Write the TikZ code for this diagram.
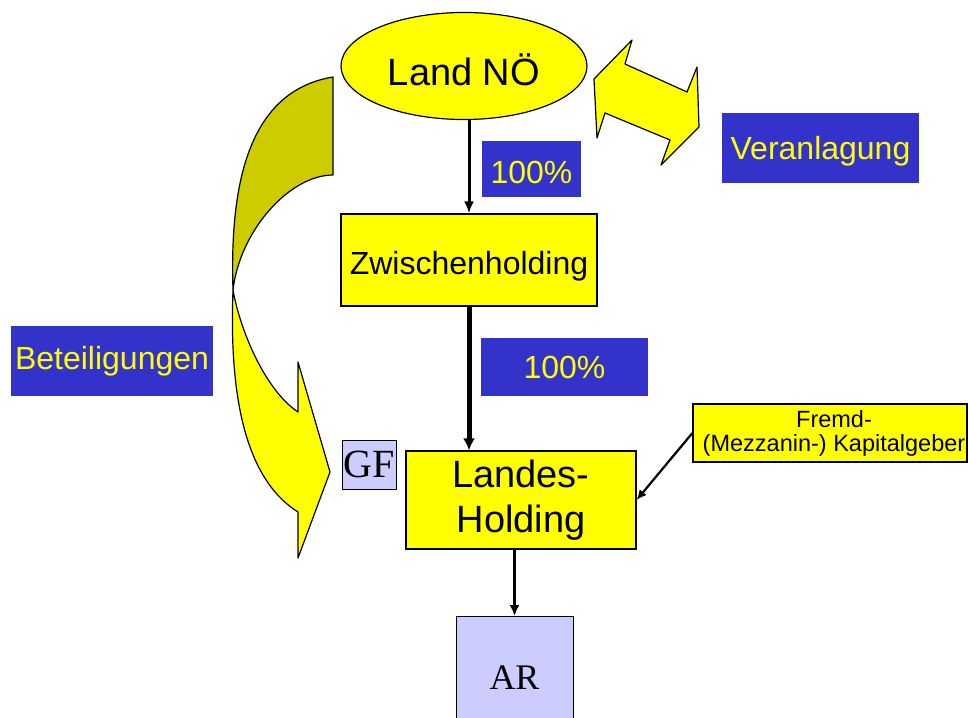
\documentclass[tikz,border=0pt]{standalone}
\usepackage{fontspec}
\setmainfont{Liberation Sans}
\newfontfamily\timesfont{Liberation Serif}
\usetikzlibrary{shapes.geometric,arrows.meta}
\definecolor{ylw}{RGB}{255,255,0}
\definecolor{olv}{RGB}{204,204,0}
\definecolor{blu}{RGB}{51,51,204}
\definecolor{lav}{RGB}{204,204,255}
\newcommand{\lowered}[2]{\raisebox{-#1}[\height][\depth]{#2}}

\begin{document}
\begin{tikzpicture}[x=1pt,y=-1pt,
    ybox/.style={draw, fill=ylw, line width=1.2pt, inner sep=0pt, align=center},
    bbox/.style={fill=blu, text=ylw, inner sep=0pt, font=\fontsize{32}{38}\selectfont},
    gbox/.style={draw, fill=lav, line width=1pt, inner sep=0pt, font=\timesfont\fontsize{36}{40}\selectfont},
    shp/.style={draw, line width=1.2pt, line join=round}]
    \useasboundingbox (0,0) rectangle (968,717);

    \coordinate (L) at (464,66);
    \coordinate (Z) at (469,260);
    \coordinate (H) at (521,500);
    \coordinate (G) at (369,464.5);
    \coordinate (F) at (830,433);
    \coordinate (A) at (514.5,616);
    \coordinate (P1) at (531.5,169);
    \coordinate (P2) at (564.5,367);
    \coordinate (V) at (820.5,148);
    \coordinate (B) at (112,361);

    % curved arrow, back part
    \draw[shp, fill=olv] (333,77) -- (333,175)
        .. controls (290,175) and (240,230) .. (233,290)
        .. controls (229,170) and (255,90) .. (333,77) -- cycle;
    % curved arrow, front part
    \draw[shp, fill=ylw] (233,290)
        .. controls (240,330) and (265,390) .. (298,412)
        -- (298,362) -- (330,472) -- (298,558) -- (298,512)
        .. controls (255,485) and (228,420) .. (233,290) -- cycle;
    % double arrow
    \draw[shp, fill=ylw] (594,79) -- (632,40) -- (625,64) -- (687,92) -- (697,67)
        -- (699,127) -- (661,165) -- (670,140) -- (605,113) -- (597,138) -- cycle;

    \node[ybox, ellipse, minimum width=246pt, minimum height=107pt,
        font=\fontsize{38}{44}\selectfont] (land) at (L) {\lowered{4pt}{Land NÖ}};
    \node[ybox, minimum width=256pt, minimum height=92pt,
        font=\fontsize{32}{38}\selectfont] (zwh) at (Z) {\lowered{6pt}{Zwischenholding}};
    \node[ybox, minimum width=230pt, minimum height=98pt,
        font=\fontsize{38}{45}\selectfont] (lh) at (H) {Landes-\\Holding};
    \node[ybox, minimum width=274pt, minimum height=58pt,
        font=\fontsize{23.5}{24}\selectfont] (fk) at (F) {\hspace*{8pt}Fremd-\\\hspace*{8pt}(Mezzanin-) Kapitalgeber};
    \node[gbox, minimum width=54pt, minimum height=49pt,
        font=\timesfont\fontsize{40}{44}\selectfont] (gf) at (G) {GF};
    \node[gbox, anchor=north, minimum width=117pt, minimum height=103pt] (ar) at (A)
        {\lowered{10pt}{AR}};

    \node[bbox, minimum width=99pt, minimum height=56pt] (p1) at (P1) {\lowered{3pt}{100\%}};
    \node[bbox, minimum width=167pt, minimum height=58pt] (p2) at (P2) {100\%};
    \node[bbox, minimum width=197pt, minimum height=70pt] (ver) at (V) {\lowered{3pt}{Veranlagung}};
    \node[bbox, minimum width=202pt, minimum height=70pt] (bet) at (B) {Beteiligungen};

    \draw[line width=3pt, -{Latex[length=12pt,width=10pt]}] (zwh.north |- land.south) -- (zwh.north);
    \draw[line width=5pt, -{Latex[length=12pt,width=12pt]}] (zwh.south) -- (zwh.south |- lh.north);
    \draw[line width=3pt, -{Latex[length=11pt,width=10pt]}] (lh.south -| ar.north) -- (ar.north);
    \draw[line width=2.2pt, -{Latex[length=10pt,width=9pt]}] (fk.west) -- (lh.east);

\end{tikzpicture}
\end{document}
